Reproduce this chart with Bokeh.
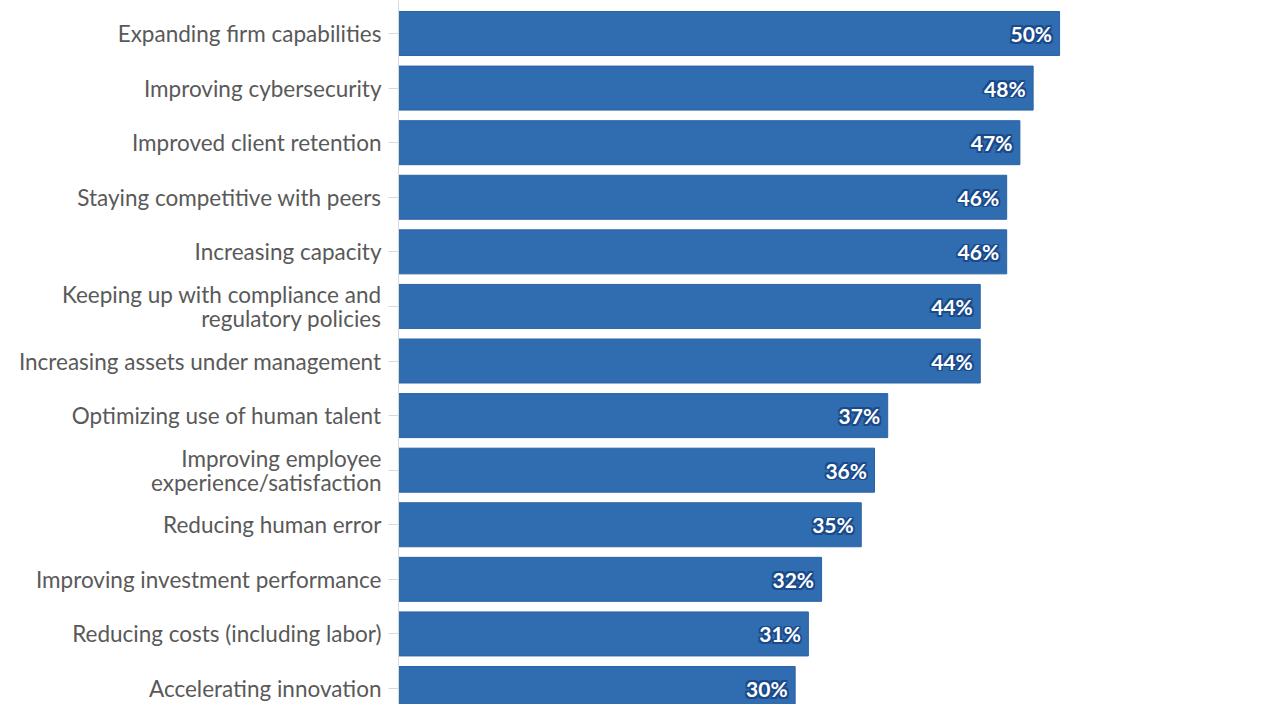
from bokeh.plotting import figure
from bokeh.models import Range1d, FixedTicker, ColumnDataSource
from bokeh.embed import file_html
from bokeh.resources import INLINE
from bokeh.core.properties import value

categories = [
    "Expanding firm capabilities",
    "Improving cybersecurity",
    "Improved client retention",
    "Staying competitive with peers",
    "Increasing capacity",
    "Keeping up with compliance and\nregulatory policies",
    "Increasing assets under management",
    "Optimizing use of human talent",
    "Improving employee\nexperience/satisfaction",
    "Reducing human error",
    "Improving investment performance",
    "Reducing costs (including labor)",
    "Accelerating innovation",
]
values = [50, 48, 47, 46, 46, 44, 44, 37, 36, 35, 32, 31, 30]
value_labels = [f"{v}%" for v in values]
rows = list(range(1, len(categories) + 1))

src = ColumnDataSource(dict(row=rows, value=values, label=value_labels))

p = figure(width=1264, height=704, output_backend="svg", toolbar_location=None,
           x_range=Range1d(0, 65.5), y_range=Range1d(13.293, 0.395),
           x_axis_location=None, min_border_left=398, min_border_right=0,
           min_border_top=0, min_border_bottom=0, outline_line_color=None)

p.hbar(y="row", left=0, right="value", height=0.806, source=src,
       fill_color="#2f6cb0", line_color="#2a63a6", line_width=1)

label_kw = dict(x="value", y="row", text="label", source=src,
                text_align="right", text_baseline="middle",
                text_font=value("Lato"), text_font_style="bold",
                text_font_size="21px")
d = 1.7
for dx, dy in [(-d, 0), (d, 0), (0, -d), (0, d), (-d, -d), (d, d), (-d, d), (d, -d)]:
    p.text(x_offset=-7.5 + dx, y_offset=dy, text_color="#1b4a8a", **label_kw)
p.text(x_offset=-7.5, y_offset=0, text_color="white", **label_kw)

p.xgrid.visible = False
p.ygrid.visible = False
ax = p.yaxis[0]
ax.ticker = FixedTicker(ticks=rows)
ax.major_label_overrides = {r: c for r, c in zip(rows, categories)}
ax.major_label_text_font = "Lato"
ax.major_label_text_font_size = "22.5px"
ax.major_label_text_line_height = 0.9
ax.major_label_text_color = "#595959"
ax.major_label_standoff = 7
ax.major_tick_out = 10
ax.major_tick_in = 0
ax.minor_tick_out = 0
ax.minor_tick_in = 0
ax.axis_line_color = "#d9d9d9"
ax.major_tick_line_color = "#d9d9d9"

open("out.html", "w").write(file_html(p, INLINE))
